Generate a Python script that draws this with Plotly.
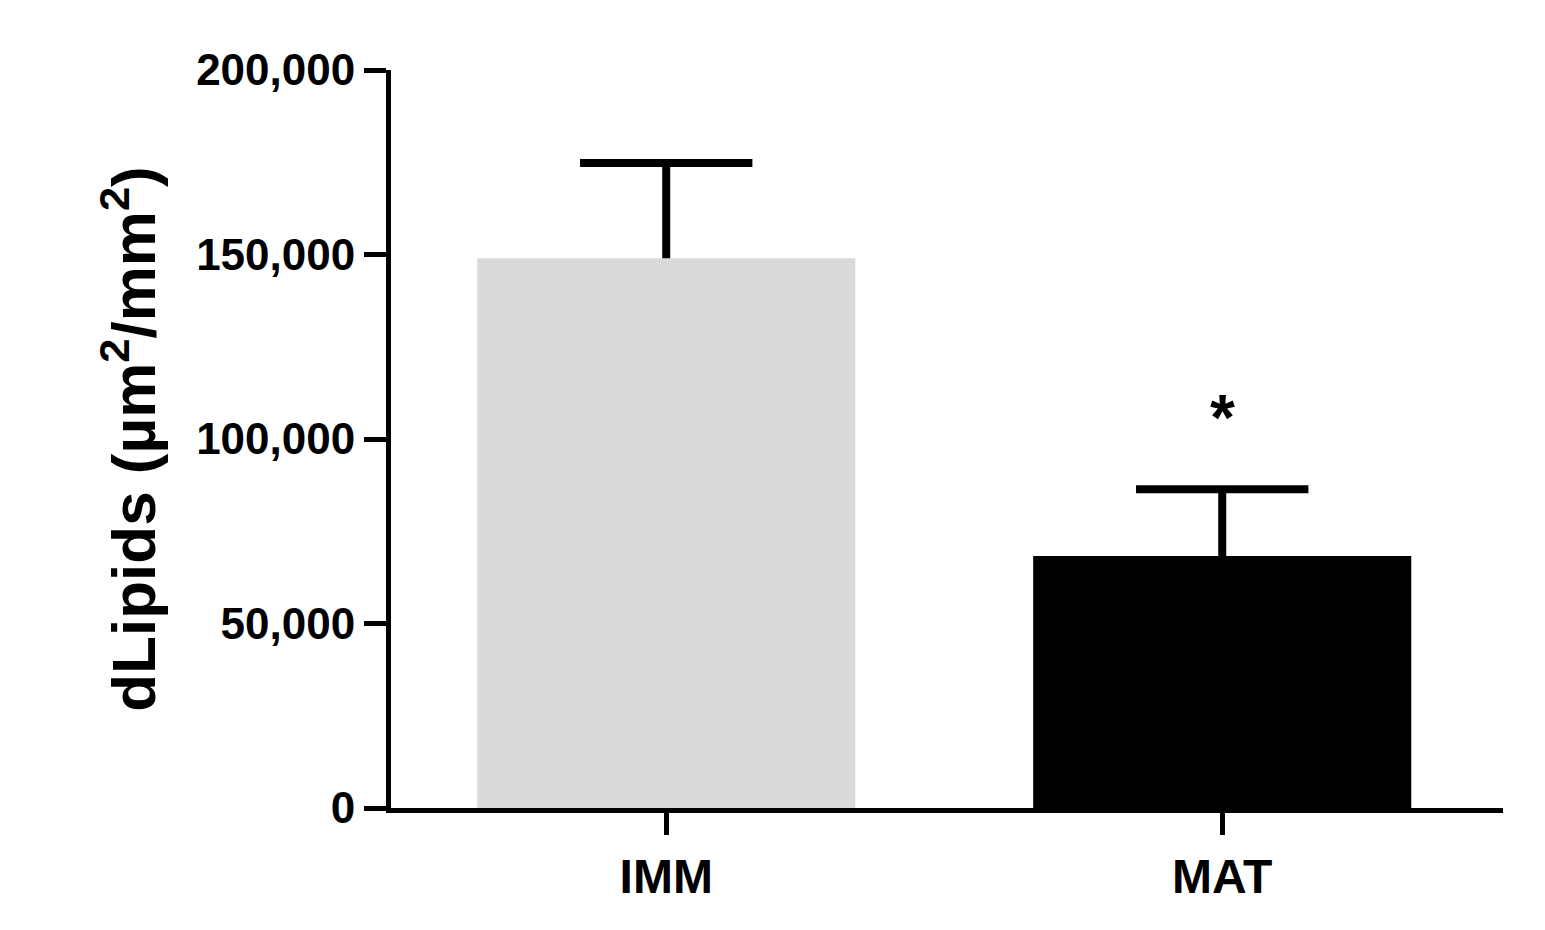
import plotly.graph_objects as go

categories = ["IMM", "MAT"]
means = [149000, 68300]
errors = [25800, 18100]
colors = ["#dadada", "#000000"]
tick_vals = [0, 50000, 100000, 150000, 200000]
tick_text = ["0", "50,000", "100,000", "150,000", "200,000"]

fig = go.Figure()
fig.add_trace(go.Bar(
    x=[0, 1], y=means, width=0.68,
    marker=dict(color=colors, line=dict(width=0)),
))
cap = 0.155
for i, (m, e) in enumerate(zip(means, errors)):
    top = m + e
    fig.add_trace(go.Scatter(x=[i, i, None, i - cap, i + cap], y=[m, top, None, top, top],
                             mode="lines", line=dict(color="black", width=8), hoverinfo="skip"))
fig.add_annotation(x=1, y=means[1] + errors[1] + 9000, text="<b>*</b>", showarrow=False,
                   font=dict(size=64, color="black", family="Arial"), yanchor="bottom")
fig.update_layout(
    width=1545, height=930, plot_bgcolor="white", paper_bgcolor="white",
    margin=dict(l=383, r=50, t=62, b=130), showlegend=False,
    font=dict(family="Liberation Sans, Arial", color="black"),
    xaxis=dict(range=[-0.495, 1.505], tickvals=[0, 1], ticktext=["<b>IMM</b>", "<b>MAT</b>"],
               showline=True, linewidth=5, linecolor="black", ticks="outside", ticklen=22,
               tickwidth=5, tickcolor="black", tickfont=dict(size=48), showgrid=False, zeroline=False),
    yaxis=dict(range=[0, 200000], tickvals=tick_vals, ticktext=["<b>%s</b>" % t for t in tick_text],
               showline=True, linewidth=5, linecolor="black", ticks="outside", ticklen=22,
               tickwidth=5, tickcolor="black", tickfont=dict(size=44), showgrid=False, zeroline=False,
               title=dict(text="<b>dLipids (µm<sup>2</sup>/mm<sup>2</sup>)</b>", font=dict(size=62), standoff=22)),
)
fig.write_html("out.html")
